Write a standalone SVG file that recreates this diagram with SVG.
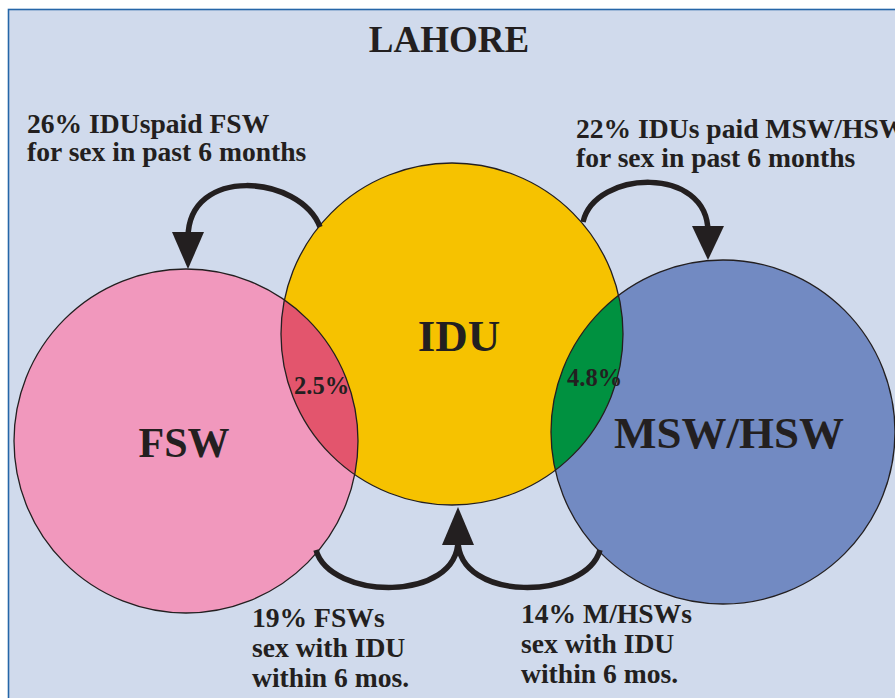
<svg xmlns="http://www.w3.org/2000/svg" width="895" height="698" viewBox="0 0 895 698">
<style>
  text { font-family: "Liberation Serif", "Times New Roman", serif; font-weight: bold; fill: #231f20; }
  .lbl { font-size: 27.6px; }
  .big { font-size: 43px; }
  .pct { font-size: 24.5px; }
  .edge { fill: none; stroke: #231f20; stroke-width: 1.3; }
  .conn { fill: none; stroke: #231f20; stroke-width: 5.5; }
  .head { fill: #231f20; }
</style>
<defs>
  <clipPath id="clipIDU"><circle cx="452" cy="334" r="171"/></clipPath>
</defs>
<rect x="0" y="0" width="895" height="698" fill="#ffffff"/>
<rect x="8.5" y="9.5" width="900" height="700" fill="#d0daec" stroke="#2566a8" stroke-width="1.6"/>
<text x="449" y="52" text-anchor="middle" style="font-size:37px">LAHORE</text>

<g id="node-FSW">
  <circle cx="186" cy="441" r="172" fill="#f198bd"/>
</g>
<g id="node-MSW">
  <circle cx="723" cy="432" r="172" fill="#728ac2"/>
</g>
<g id="node-IDU">
  <circle cx="452" cy="334" r="171" fill="#f6c200"/>
</g>
<g id="overlap-FSW-IDU">
  <circle cx="186" cy="441" r="172" fill="#e3556d" clip-path="url(#clipIDU)"/>
</g>
<g id="overlap-IDU-MSW">
  <circle cx="723" cy="432" r="172" fill="#009140" clip-path="url(#clipIDU)"/>
</g>
<g id="outlines">
  <circle class="edge" cx="186" cy="441" r="172"/>
  <circle class="edge" cx="723" cy="432" r="172"/>
  <circle class="edge" cx="452" cy="334" r="171"/>
</g>
<g id="labels">
  <text class="big" x="184" y="457" text-anchor="middle" style="font-size:42px">FSW</text>
  <text class="big" x="459" y="351" text-anchor="middle" style="font-size:45px">IDU</text>
  <text class="big" x="729" y="448" text-anchor="middle" style="font-size:45px">MSW/HSW</text>
  <text class="pct" x="294" y="394">2.5%</text>
  <text class="pct" x="567" y="386">4.8%</text>
</g>

<g id="connectors">
  <path class="conn" d="M320,227 C300,175 188,165 188,238"/>
  <polygon class="head" points="172,232 204,232 188,269"/>
  <path class="conn" d="M583,222 C595,170 708,165 708,232"/>
  <polygon class="head" points="692,226 724,226 708,260"/>
  <path class="conn" d="M316,550 C330,600 458,603 458,540"/>
  <path class="conn" d="M600,550 C586,600 458,603 458,540"/>
  <polygon class="head" points="442,545 474,545 458,507"/>
</g>

<g id="annotations">
  <text class="lbl" x="27" y="133">26% IDUspaid FSW</text>
  <text class="lbl" x="27" y="161">for sex in past 6 months</text>
  <text class="lbl" x="576" y="138">22% IDUs paid MSW/HSW</text>
  <text class="lbl" x="576" y="167">for sex in past 6 months</text>
  <text class="lbl" x="252" y="627">19% FSWs</text>
  <text class="lbl" x="252" y="657">sex with IDU</text>
  <text class="lbl" x="252" y="687">within 6 mos.</text>
  <text class="lbl" x="521" y="623">14% M/HSWs</text>
  <text class="lbl" x="521" y="653">sex with IDU</text>
  <text class="lbl" x="521" y="683">within 6 mos.</text>
</g>
</svg>
